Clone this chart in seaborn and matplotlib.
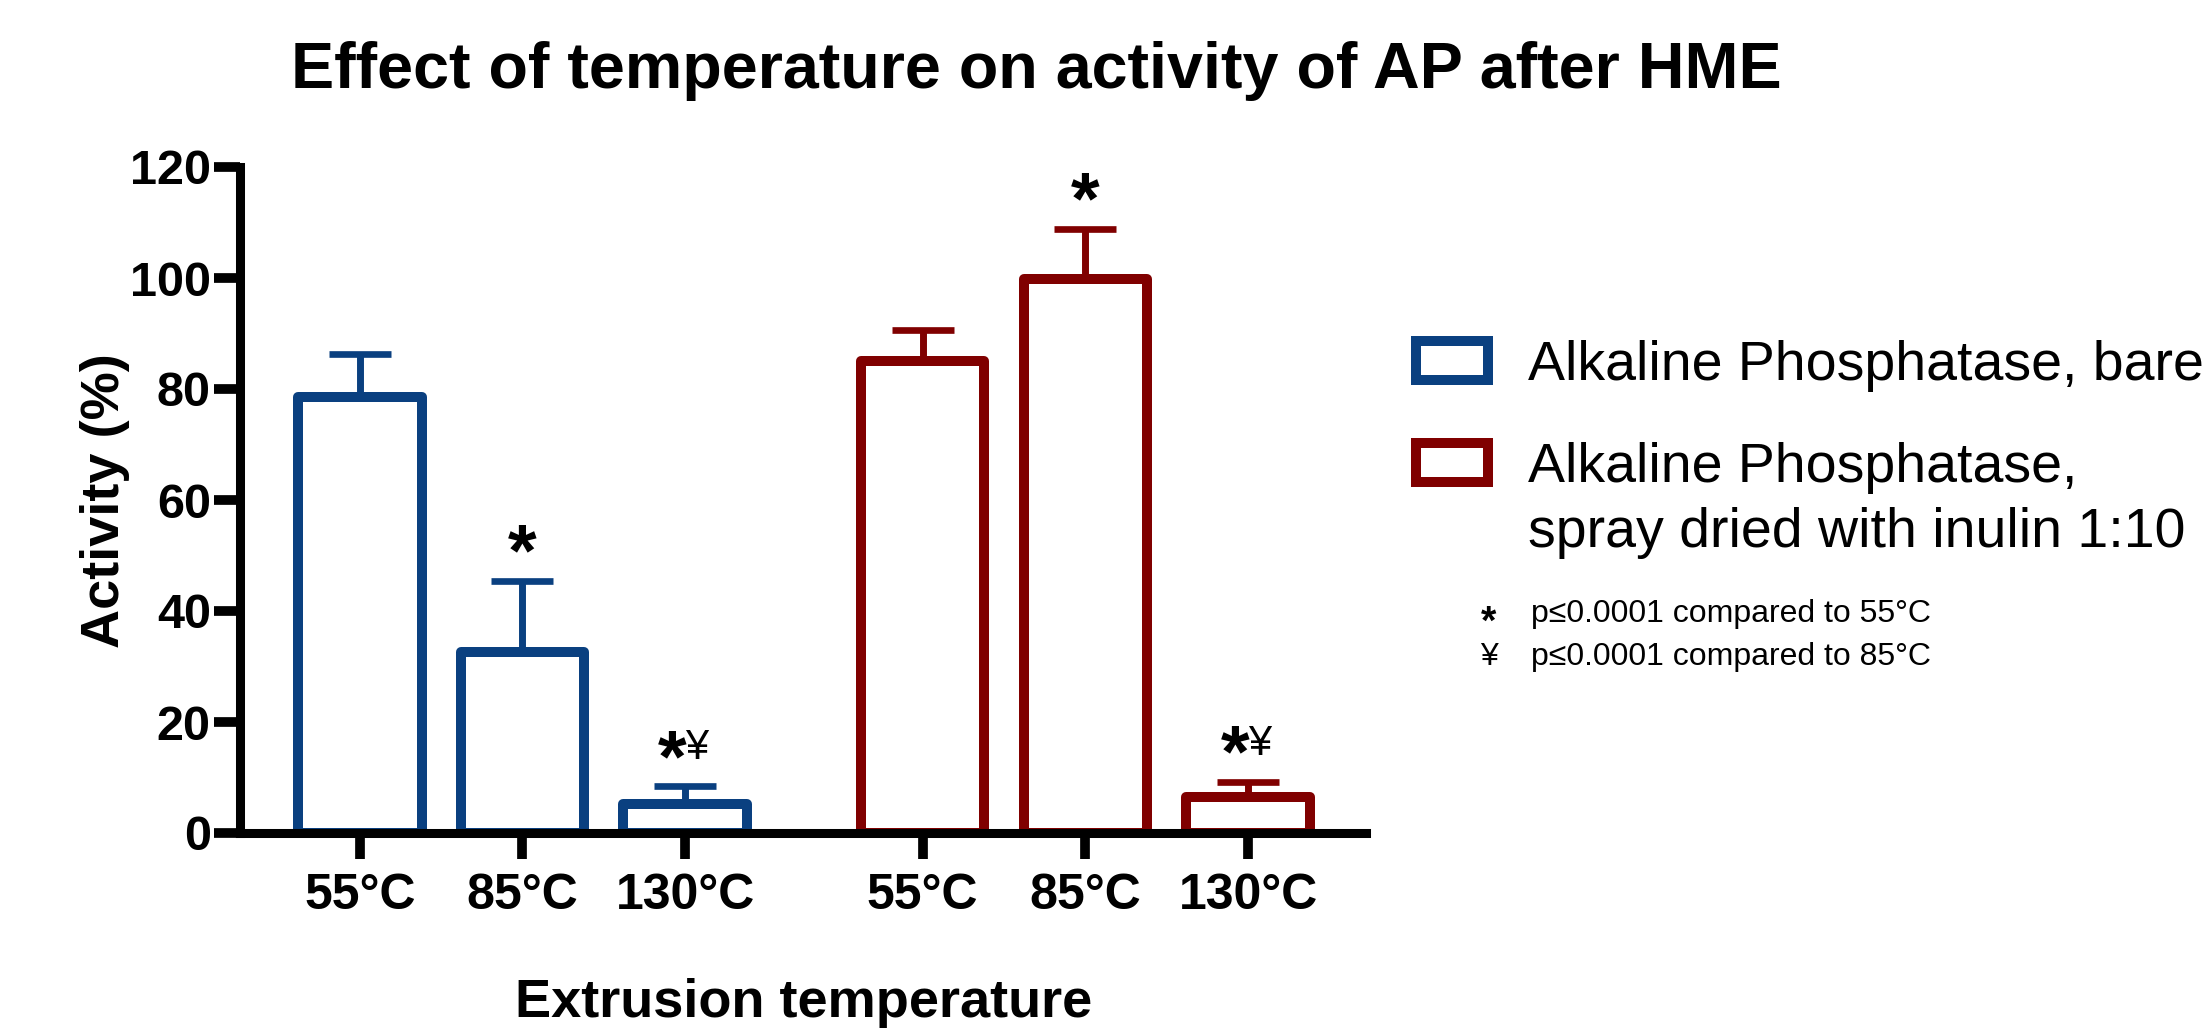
import matplotlib
matplotlib.use("Agg")
import matplotlib.pyplot as plt
from matplotlib.patches import Patch
import numpy as np
import pandas as pd
import seaborn as sns

# ---- data ----
temperatures = ["55°C", "85°C", "130°C"]
groups = ["Alkaline Phosphatase, bare",
          "Alkaline Phosphatase,\nspray dried with inulin 1:10"]
bare_mean = [78.6, 32.6, 5.3]
bare_err = [7.7, 12.8, 3.1]
spray_mean = [85.0, 99.8, 6.5]
spray_err = [5.7, 9.1, 2.7]
bare_marks = ["", "*", "*¥"]
spray_marks = ["", "*", "*¥"]
footnotes = [("*", "p≤0.0001 compared to 55°C"), ("¥", "p≤0.0001 compared to 85°C")]

colors = ["#0A4080", "#800000"]

sns.set_theme(style="ticks")
plt.rcParams["font.family"] = ["Liberation Sans", "DejaVu Sans"]
plt.rcParams["mathtext.fontset"] = "custom"
plt.rcParams["mathtext.rm"] = "Liberation Sans"
plt.rcParams["mathtext.bf"] = "Liberation Sans:bold"
for k in ["text.color", "axes.labelcolor", "xtick.color", "ytick.color", "axes.edgecolor"]:
    plt.rcParams[k] = "black"

W, H = 2212, 1030
def fx(x): return x / W
def fy(y): return 1 - y / H

group_step = 3.46
means = [bare_mean, spray_mean]
errs = [bare_err, spray_err]
marks = [bare_marks, spray_marks]
rows = []
for g, name in enumerate(groups):
    for i, t in enumerate(temperatures):
        rows.append({"pos": i + g * group_step, "activity": means[g][i],
                     "err": errs[g][i], "group": name, "temp": t, "mark": marks[g][i]})
df = pd.DataFrame(rows)

fig = plt.figure(figsize=(W / 100, H / 100), dpi=100)
ax = fig.add_axes([fx(240), fy(833), fx(1366) - fx(240), fy(167) - fy(833)])

sns.barplot(data=df, x="pos", y="activity", hue="group", palette=colors,
            native_scale=True, dodge=False, fill=False, linewidth=7.2,
            width=0.76, legend=False, ax=ax, errorbar=None)
for p in ax.patches:
    p.set_joinstyle("round")

for g, name in enumerate(groups):
    sub = df[df["group"] == name]
    ax.errorbar(sub["pos"], sub["activity"],
                yerr=[np.zeros(len(sub)), sub["err"]],
                fmt="none", ecolor=colors[g], elinewidth=5,
                capsize=22.5, capthick=4.8, zorder=3)

# significance marks
for _, r in df.iterrows():
    top = r["activity"] + r["err"]
    if r["mark"] == "*":
        ax.text(r["pos"], top + 1.0, "*", ha="center", va="baseline",
                fontsize=53, fontweight="bold")
    elif r["mark"] == "*¥":
        ax.text(r["pos"] + 0.01, top + 1.0, "*", ha="right", va="baseline",
                fontsize=53, fontweight="bold")
        ax.text(r["pos"] + 0.0, top + 4.9, "¥", ha="left", va="baseline",
                fontsize=30)

ax.set_xlim(-0.736, 6.185)
ax.set_ylim(0, 120)
ax.set_yticks(np.arange(0, 121, 20))
ax.set_xticks(df["pos"])
ax.set_xticklabels(df["temp"])
ax.set_xlabel("")
ax.set_ylabel("")
for s in ["top", "right"]:
    ax.spines[s].set_visible(False)
for s in ["left", "bottom"]:
    ax.spines[s].set_linewidth(6.5)
    ax.spines[s].set_color("black")
ax.tick_params(axis="both", direction="out", width=7, color="black")
ax.tick_params(axis="y", length=19, pad=2, labelsize=35)
ax.tick_params(axis="x", length=19, pad=10, labelsize=36)
for lab in ax.get_xticklabels() + ax.get_yticklabels():
    lab.set_fontweight("bold")

fig.text(fx(1036), fy(88), "Effect of temperature on activity of AP after HME",
         ha="center", va="baseline", fontsize=46.5, fontweight="bold")
fig.text(fx(105), fy(501), "Activity (%)", rotation=90, ha="center", va="center",
         fontsize=39, fontweight="bold")
fig.text(fx(804), fy(1017), "Extrusion temperature", ha="center", va="baseline",
         fontsize=39, fontweight="bold")

# legend
handles = [Patch(facecolor="white", edgecolor=c, linewidth=7.2) for c in colors]
labels = [groups[0], groups[1].split("\n")[0]]
fig.legend(handles, labels, loc="upper left", bbox_to_anchor=(fx(1415.7), fy(340)),
           frameon=False, borderpad=0, borderaxespad=0, fontsize=40,
           handlelength=1.30, handleheight=0.70, handletextpad=0.72,
           labelspacing=0.9)
fig.text(fx(1528), fy(547), groups[1].split("\n")[1], ha="left", va="baseline",
         fontsize=40)

for k, (sym, txt) in enumerate(footnotes):
    yb = 622 + k * 43
    if sym == "*":
        fig.text(fx(1489), fy(yb + 11), r"$\mathbf{*}$", ha="center", va="baseline",
                 fontsize=28.5)
    else:
        fig.text(fx(1489), fy(yb), sym, ha="center", va="baseline", fontsize=23)
    fig.text(fx(1531), fy(yb), txt, ha="left", va="baseline", fontsize=23)

fig.savefig("out.png", dpi=100)
